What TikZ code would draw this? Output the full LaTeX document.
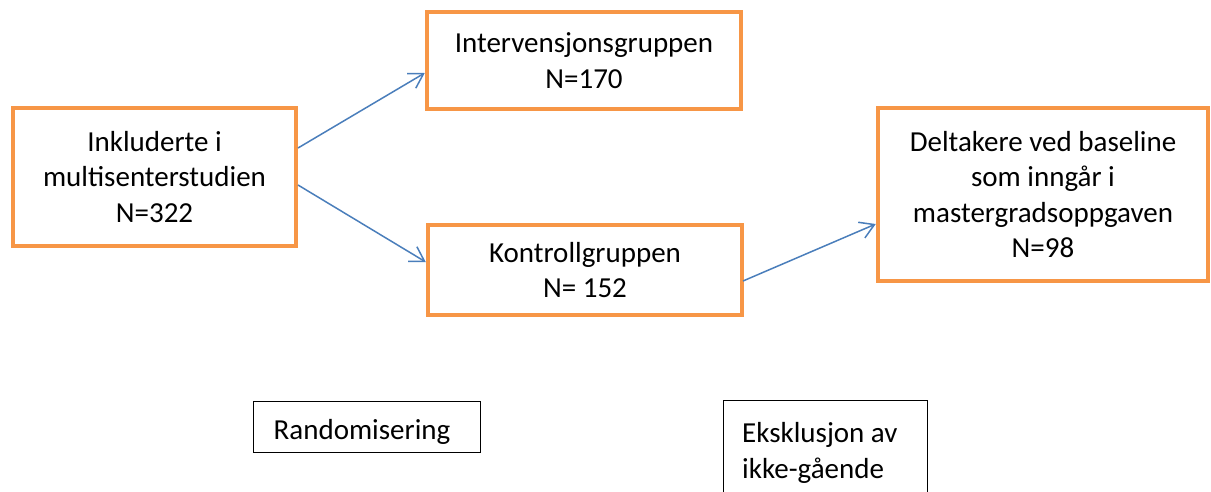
\documentclass[tikz,border=0pt]{standalone}
\usepackage{fontspec}
\setmainfont{Carlito}
\usetikzlibrary{arrows.meta}
\definecolor{boxorange}{HTML}{F79646}
\definecolor{arrowblue}{HTML}{4A7EBB}
\tikzset{
  obox/.style={draw=boxorange, line width=4.5pt, fill=white, align=center, inner sep=0pt,
    font=\fontsize{29}{35.5}\selectfont},
  tbox/.style={draw=black, line width=1pt, inner sep=0pt},
  lbl/.style={font=\fontsize{29}{35.5}\selectfont, inner sep=0pt},
  arr/.style={draw=arrowblue, line width=1.5pt, -{Straight Barb[length=14pt,width=17pt,line width=1.5pt]}}
}
\begin{document}
\begin{tikzpicture}[x=1pt,y=-1pt]
\useasboundingbox (0,0) rectangle (1211,491);
\node[obox, minimum width=283pt, minimum height=138pt] (A) at (154.5,177) {Inkluderte i\\multisenterstudien\\N=322};
\node[obox, minimum width=314pt, minimum height=97pt] (B) at (584,60.5) {Intervensjonsgruppen\\N=170};
\node[obox, minimum width=314pt, minimum height=90pt] (C) at (585,270) {Kontrollgruppen\\N= 152};
\node[obox, minimum width=330pt, minimum height=173pt] (D) at (1043,194.5) {Deltakere ved baseline\\som inngår i\\mastergradsoppgaven\\N=98};
\node[tbox, minimum width=227pt, minimum height=51pt] (E) at (366.5,426.5) {};
\node[lbl] (Et) at (362,432) {Randomisering};
\begin{scope}
\clip (0,0) rectangle (1211,491);
\node[tbox, minimum width=204pt, minimum height=140pt, anchor=north west] (F) at (723,400) {};
\end{scope}
\node[lbl, anchor=west, align=left] (Ft) at (742,453) {Eksklusjon av\\ikke-gående};
\coordinate (a1) at (298,148);
\coordinate (a2) at (298,185);
\coordinate (c1) at (743,281);
\draw[arr] (a1) -- (B.west |- 0,73);
\draw[arr] (a2) -- (C.west |- 0,262);
\draw[arr] (c1) -- (D.west |- 0,224);
\end{tikzpicture}
\end{document}
